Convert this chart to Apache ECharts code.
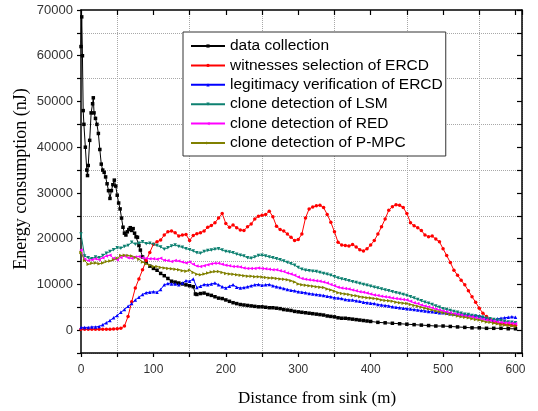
<!DOCTYPE html>
<html><head><meta charset="utf-8">
<script src="https://cdn.jsdelivr.net/npm/echarts@6/dist/echarts.min.js"></script>
<style>html,body{margin:0;padding:0;background:#fff}#c{width:538px;height:411px}</style>
</head><body><div id="c"></div>
<script>
// Distance samples (m) shared by the five smooth series
const distance = [
  0,5,10,15,20,25,30,35,40,45,
  50,55,60,65,70,75,80,85,90,95,
  100,105,110,115,120,125,130,135,140,145,
  150,155,160,165,170,175,180,185,190,195,
  200,205,210,215,220,225,230,235,240,245,
  250,255,260,265,270,275,280,285,290,295,
  300,305,310,315,320,325,330,335,340,345,
  350,355,360,365,370,375,380,385,390,395,
  400,405,410,415,420,425,430,435,440,445,
  450,455,460,465,470,475,480,485,490,495,
  500,505,510,515,520,525,530,535,540,545,
  550,555,560,565,570,575,580,585,590,595,
  600];

const witnessesERCD = [
  200,200,200,200,200,200,200,200,200,250,
  300,400,900,3000,6200,9200,11200,13200,15200,17000,
  18800,19300,19700,20800,21500,21700,21300,20600,20800,20900,
  19600,20700,21100,21300,21700,22500,22900,23500,24500,25500,
  23300,22500,23000,22400,21900,21800,22600,23200,24300,24900,
  25100,25300,26000,24800,22700,22000,21700,21000,20300,19600,
  19800,21000,24500,26500,26900,27200,27300,26800,25300,23600,
  21500,19200,18600,18500,18400,18700,18200,17600,17300,17800,
  18600,19600,21000,22600,24300,26200,27000,27400,27300,26800,
  25500,23500,22800,22400,21800,20800,20400,20600,19900,19300,
  17800,16300,14800,13100,12000,10900,9900,8600,7300,6100,
  4800,3700,3000,2400,1900,1600,1400,1300,1200,1100,
  1000];

const legitimacyERCD = [
  600,600,600,700,700,800,1200,1600,2100,2700,
  3200,3900,4500,5200,5800,6600,7200,7800,8200,8300,
  8400,8300,8900,9900,10200,10100,10100,9900,10300,10800,
  10700,11200,9300,9600,10000,9900,10100,10300,9900,9500,
  9200,9600,9900,9400,9200,9300,9500,9700,9900,10000,
  9800,9900,10000,9700,9500,9300,9100,8900,8700,8600,
  8400,8300,8200,8000,7900,7800,7700,7600,7400,7300,
  7100,7000,6900,6700,6600,6600,6400,6300,6100,6000,
  5900,5800,5600,5500,5400,5300,5100,5000,4900,4800,
  4700,4600,4500,4400,4300,4200,4100,4000,3900,3800,
  3800,3700,3600,3500,3500,3400,3300,3300,3200,3200,
  3100,2900,2600,2300,2200,2500,2600,2700,2800,2900,
  2800];

const cloneLSM = [
  21000,16200,15800,15600,16000,15800,16300,16800,17200,17600,
  18000,17900,18300,18500,19200,18800,19000,19300,18900,19000,
  18700,18500,18200,17700,18000,18400,18600,18300,18100,17800,
  17600,17300,16900,16800,17200,17400,17500,17700,17800,17500,
  17200,17100,16900,16600,16400,16200,15800,15700,16000,16300,
  16400,16200,16000,15800,15600,15400,15100,14800,14500,14200,
  13700,13300,13100,13000,12900,12800,12600,12400,12200,12000,
  11700,11400,11200,11000,10800,10600,10400,10200,10000,9800,
  9600,9400,9200,9000,8800,8600,8400,8200,8000,7800,
  7600,7300,7000,6700,6400,6100,5900,5600,5300,5000,
  4700,4500,4300,4100,3900,3700,3500,3400,3200,3100,
  2900,2800,2600,2500,2300,2200,2100,1900,1800,1700,
  1600];

const cloneRED = [
  17500,15500,15200,15400,15600,15400,15800,16200,16400,15700,
  15400,15900,16200,15800,15700,16000,16100,15800,15700,15600,
  15600,15500,15700,15300,15200,15000,15200,15100,14900,14700,
  14900,14400,14000,13900,14100,14300,14500,14600,14600,14400,
  14200,14100,13900,13900,13800,13600,13500,13500,13500,13600,
  13500,13400,13300,13200,13200,13000,12800,12500,12300,12000,
  11600,11300,11100,11000,10900,10800,10700,10500,10300,10000,
  9700,9400,9200,9100,9000,8800,8600,8400,8300,8100,
  7900,7700,7600,7400,7300,7200,7000,6900,6800,6700,
  6600,6300,6000,5800,5500,5300,5100,4900,4600,4400,
  4200,4000,3800,3600,3500,3300,3100,3000,2900,2700,
  2500,2400,2200,2100,2000,1800,1700,1600,1600,1500,
  1400];

const clonePMPC = [
  17000,15200,14400,14600,14700,14500,14700,15000,15100,15400,
  15700,16300,16400,16300,16200,15900,15500,14900,14500,14200,
  13900,13900,13700,13600,13500,13400,13300,13200,13000,12900,
  13100,12600,12200,12100,12300,12500,12700,12800,12800,12600,
  12400,12300,12200,12100,12000,11900,11800,11800,11700,11700,
  11600,11500,11400,11400,11300,11200,11100,11000,10800,10500,
  10100,9900,9800,9700,9600,9500,9400,9300,9000,8800,
  8500,8200,8000,7900,7800,7600,7500,7300,7200,7100,
  7000,6900,6800,6600,6500,6400,6300,6100,6000,5900,
  5800,5600,5400,5200,5000,4800,4600,4400,4200,4000,
  3800,3600,3400,3300,3100,2900,2800,2700,2500,2300,
  2200,2000,1800,1700,1500,1400,1200,1100,1000,900,
  800];

// Data collection has its own (denser near the sink) distance samples
const collectionX = [
  0,1,2,3,4,6,8,9,10,
  12,14,16,17,18,20,22,24,26,28,
  30,32,34,36,38,40,42,44,46,48,
  50,52,54,56,58,60,62,64,66,68,
  70,72,74,76,78,80,82,85,90,95,
  100,105,110,115,120,125,130,135,140,145,
  150,155,158,160,165,170,175,180,185,190,
  195,200,205,210,215,220,225,230,235,240,
  245,250,255,260,265,270,275,280,285,290,
  295,300,305,310,315,320,325,330,335,340,
  345,350,355,360,365,370,375,380,385,390,
  395,400,410,420,430,440,450,460,470,480,
  490,500,510,520,530,540,550,560,570,580,
  590,600];
const collectionY = [
  62000,68500,60000,48000,45000,40000,35000,33800,36000,
  41500,47500,49500,50800,47500,46300,45000,43000,39500,36300,
  35000,34500,33500,32000,30500,28800,30500,31800,32800,31500,
  29500,27800,26500,24500,22500,21200,20800,21500,22000,22400,
  21800,22200,21200,20400,20300,18500,17500,16000,14800,14000,
  13500,13100,12400,11900,11300,10700,10500,10300,10100,9900,
  9700,9500,7900,7800,8000,8100,7800,7600,7300,7000,
  6900,6600,6300,6000,5800,5600,5500,5400,5300,5200,
  5100,5100,5000,4900,4900,4800,4700,4500,4400,4300,
  4100,4000,3900,3800,3700,3600,3500,3400,3300,3100,
  3000,2900,2700,2600,2600,2500,2400,2300,2200,2100,
  2000,1900,1700,1600,1500,1400,1300,1200,1100,1000,
  900,900,800,700,600,500,500,400,400,400,
  300,300];

const seriesNames = [
  'data collection',
  'witnesses selection of ERCD',
  'legitimacy verification of ERCD',
  'clone detection of LSM',
  'clone detection of RED',
  'clone detection of P-MPC'
];
const xTickLabels = [0,100,200,300,400,500,600];
const yTickLabels = [0,10000,20000,30000,40000,50000,60000,70000];

const pairs = (xs, ys) => xs.map((x, i) => [x, ys[i]]);

const chart = echarts.init(document.getElementById('c'), null, {renderer: 'canvas'});

const axisLineStyle = {color: '#000', width: 1.5};
const labelFont = 'Liberation Sans';

function mkSeries(name, data, color, symbol, rotate) {
  return {
    name, type: 'line', data,
    xAxisIndex: 0, yAxisIndex: 0,
    symbol, symbolSize: 3.5, symbolRotate: rotate || 0,
    showAllSymbol: true,
    lineStyle: {color, width: 1},
    itemStyle: {color},
    emphasis: {disabled: true},
    animation: false
  };
}

const option = {
  animation: false,
  grid: {left: 81, right: 16, top: 10, bottom: 58, containLabel: false},
  legend: {
    orient: 'vertical', left: 183, top: 32,
    itemWidth: 34, itemHeight: 4, itemGap: 3.4,
    padding: [6, 3, 5, 7],
    borderColor: '#333', borderWidth: 1, backgroundColor: '#fff',
    textStyle: {fontSize: 15.5, color: '#000', fontFamily: labelFont, lineHeight: 15},
    data: seriesNames, z: 10
  },
  xAxis: [
    {
      type: 'value', min: 0, max: 609, interval: 50, position: 'bottom',
      axisLine: {show: true, onZero: false, lineStyle: axisLineStyle},
      axisTick: {show: true, inside: false, length: 4, lineStyle: {color: '#000', width: 1.2}},
      axisLabel: {
        formatter: v => xTickLabels.includes(v) ? String(v) : '',
        fontSize: 12, color: '#333', margin: 11, fontFamily: labelFont
      },
      splitLine: {show: true, lineStyle: {type: 'dotted', color: ['rgba(0,0,0,0)', '#a8a8a8'], width: 1}}
    },
    {
      type: 'value', min: 0, max: 609, interval: 50, position: 'top',
      axisLine: {show: true, onZero: false, lineStyle: axisLineStyle},
      axisTick: {show: true, inside: true, length: 5, lineStyle: {color: '#000', width: 1.2}},
      axisLabel: {show: false}, splitLine: {show: false}
    }
  ],
  yAxis: [
    {
      type: 'value', min: -5000, max: 70000, interval: 5000, position: 'left',
      axisLine: {show: true, onZero: false, lineStyle: axisLineStyle},
      axisTick: {show: true, inside: false, length: 4, lineStyle: {color: '#000', width: 1.2}},
      axisLabel: {
        formatter: v => yTickLabels.includes(v) ? String(v) : '',
        fontSize: 13, color: '#333', margin: 8, fontFamily: labelFont
      },
      splitLine: {show: true, lineStyle: {type: 'dotted', color: ['#a8a8a8', 'rgba(0,0,0,0)'], width: 1}}
    },
    {
      type: 'value', min: -5000, max: 70000, interval: 5000, position: 'right',
      axisLine: {show: true, onZero: false, lineStyle: axisLineStyle},
      axisTick: {show: true, inside: true, length: 5, lineStyle: {color: '#000', width: 1.2}},
      axisLabel: {show: false}, splitLine: {show: false}
    }
  ],
  graphic: [
    {type: 'text', x: 317, y: 399, style: {text: 'Distance from sink (m)', fontSize: 17, fontFamily: 'Liberation Serif', fill: '#000', align: 'center', verticalAlign: 'middle'}},
    {type: 'text', x: 21, y: 179, rotation: Math.PI / 2, style: {text: 'Energy consumption (nJ)', fontSize: 18, fontFamily: 'Liberation Serif', fill: '#000', align: 'center', verticalAlign: 'middle'}}
  ],
  series: [
    mkSeries(seriesNames[0], pairs(collectionX, collectionY), '#000000', 'rect'),
    mkSeries(seriesNames[1], pairs(distance, witnessesERCD), '#ff0000', 'circle'),
    mkSeries(seriesNames[2], pairs(distance, legitimacyERCD), '#0000ff', 'triangle'),
    mkSeries(seriesNames[3], pairs(distance, cloneLSM), '#0d8070', 'triangle', 180),
    mkSeries(seriesNames[4], pairs(distance, cloneRED), '#ff00ff', 'triangle', 90),
    mkSeries(seriesNames[5], pairs(distance, clonePMPC), '#808000', 'triangle', -90)
  ]
};
chart.setOption(option);
</script></body></html>
